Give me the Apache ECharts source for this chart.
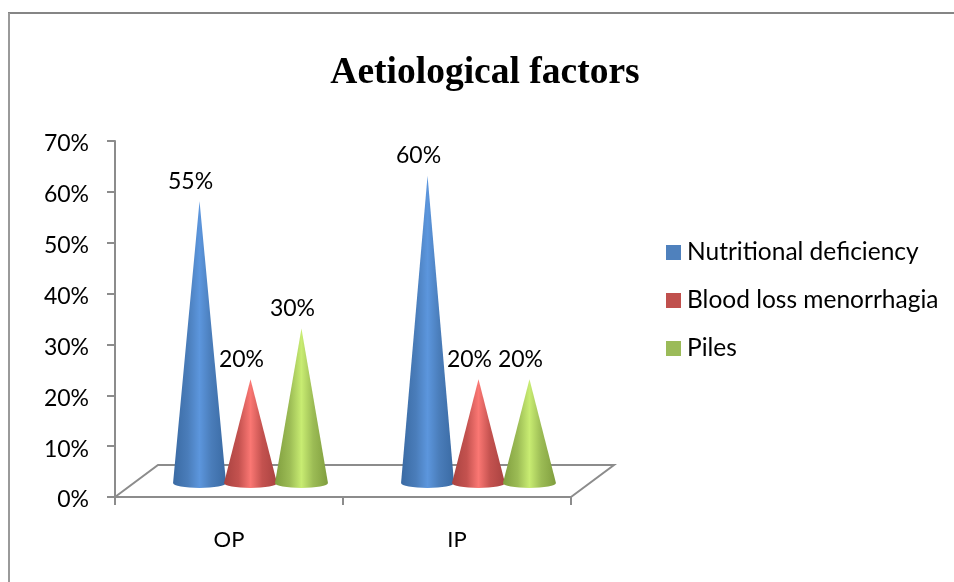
<!DOCTYPE html>
<html>
<head>
<meta charset="utf-8">
<style>html,body{margin:0;padding:0;background:#fff}#chart{width:954px;height:582px}</style>
<script src="https://cdn.jsdelivr.net/npm/echarts@6/dist/echarts.min.js"></script>
</head>
<body>
<div id="chart"></div>
<script>
// Aetiological factors among outpatients and inpatients, in percent.
const categories = ['OP', 'IP'];
const seriesNames = ['Nutritional deficiency', 'Blood loss menorrhagia', 'Piles'];
const nutritional = [55, 60];
const bloodLoss = [20, 20];
const piles = [30, 20];
const yTicks = { min: 0, max: 70, interval: 10 };

const AXIS_GREY = '#8c8c8c';
const DEPTH_X = 43, DEPTH_Y = 32;
const palette = [
  { flat: '#4f81bd', edge: '#3a6aa3', side: '#4a7dba', mid: '#5c96dd' },
  { flat: '#c0504d', edge: '#a84240', side: '#c4524f', mid: '#fa7773' },
  { flat: '#9bbb59', edge: '#7f9d3e', side: '#9cbc55', mid: '#c8ec72' }
];

// Draws one cone standing on the tilted floor, with its value above the apex.
function coneRenderer(index) {
  const shade = palette[index];
  const slot = index - 1;
  return function (params, api) {
    const cat = api.value(0);
    const val = api.value(1);
    const base = api.coord([cat, 0]);
    const top = api.coord([cat, val]);
    const band = api.size([1, 0])[0];
    const cx = base[0] + DEPTH_X / 2 + slot * band * 0.2235;
    const cy = base[1] - DEPTH_Y / 2 + 2;
    const apexY = top[1] - DEPTH_Y / 2;
    const rx = 26.5, ry = 5;
    const path =
      'M' + (cx - rx) + ' ' + cy +
      'L' + cx + ' ' + apexY +
      'L' + (cx + rx) + ' ' + cy +
      'A' + rx + ' ' + ry + ' 0 0 1 ' + (cx - rx) + ' ' + cy + 'Z';
    return {
      type: 'group',
      children: [
        {
          type: 'path',
          shape: { pathData: path },
          style: {
            fill: new echarts.graphic.LinearGradient(0, 0, 1, 0, [
              { offset: 0, color: shade.edge },
              { offset: 0.28, color: shade.side },
              { offset: 0.5, color: shade.mid },
              { offset: 0.72, color: shade.side },
              { offset: 1, color: shade.edge }
            ])
          }
        },
        {
          type: 'text',
          style: {
            x: cx - 9,
            y: apexY - 20,
            text: val + '%',
            font: '23px Lato',
            fill: '#000',
            align: 'center',
            verticalAlign: 'middle'
          }
        }
      ]
    };
  };
}

// Outline of the floor plane behind the cones.
function floorRenderer(params, api) {
  const a = api.coord([0, 0]);
  const band = api.size([1, 0])[0];
  const x0 = a[0] - band / 2;
  const x1 = x0 + band * categories.length;
  const y0 = a[1];
  return {
    type: 'polyline',
    silent: true,
    shape: {
      points: [
        [x0, y0],
        [x0 + DEPTH_X, y0 - DEPTH_Y],
        [x1 + DEPTH_X, y0 - DEPTH_Y],
        [x1, y0]
      ]
    },
    style: { fill: 'none', stroke: AXIS_GREY, lineWidth: 2 }
  };
}

const coneSeries = [nutritional, bloodLoss, piles].map(function (values, i) {
  return {
    name: seriesNames[i],
    type: 'custom',
    coordinateSystem: 'cartesian2d',
    itemStyle: { color: palette[i].flat },
    renderItem: coneRenderer(i),
    encode: { x: 0, y: 1 },
    clip: false,
    z: 3 + i,
    data: values.map(function (v, c) { return [c, v]; })
  };
});

const chart = echarts.init(document.getElementById('chart'), null, { renderer: 'canvas' });
chart.setOption({
  animation: false,
  backgroundColor: '#fff',
  title: {
    text: 'Aetiological factors',
    left: 480,
    top: 49,
    textAlign: 'center',
    textStyle: { fontFamily: 'Liberation Serif', fontWeight: 'bold', fontSize: 37.5, color: '#000' }
  },
  legend: {
    orient: 'vertical',
    left: 661,
    top: 235,
    icon: 'rect',
    itemWidth: 15,
    itemHeight: 15,
    itemGap: 23,
    textStyle: { fontFamily: 'Lato', fontSize: 24.5, color: '#000', padding: [0, 0, 0, 1] },
    data: seriesNames
  },
  grid: { left: 115, right: 383, top: 141, bottom: 85 },
  xAxis: {
    type: 'category',
    data: categories,
    axisLine: { lineStyle: { color: AXIS_GREY, width: 2 } },
    axisTick: { show: true, length: 8, lineStyle: { color: AXIS_GREY, width: 2 } },
    axisLabel: { fontFamily: 'Lato', fontSize: 22, color: '#000', margin: 32 }
  },
  yAxis: {
    type: 'value',
    min: yTicks.min,
    max: yTicks.max,
    interval: yTicks.interval,
    splitLine: { show: false },
    axisLine: { show: true, lineStyle: { color: AXIS_GREY, width: 2 } },
    axisTick: { show: true, length: 8, lineStyle: { color: AXIS_GREY, width: 2 } },
    axisLabel: { fontFamily: 'Lato', fontSize: 23, color: '#000', margin: 26, verticalAlign: 'top', lineHeight: 6, formatter: '{value}%' }
  },
  graphic: [
    {
      type: 'line',
      silent: true,
      shape: { x1: 8, y1: 13, x2: 954, y2: 13 },
      style: { stroke: '#858585', lineWidth: 2 }
    },
    {
      type: 'line',
      silent: true,
      shape: { x1: 9, y1: 13, x2: 9, y2: 582 },
      style: { stroke: '#9a9a9a', lineWidth: 2 }
    }
  ],
  series: [{
    type: 'custom',
    renderItem: floorRenderer,
    clip: false,
    silent: true,
    z: 1,
    data: [[0, 0]]
  }].concat(coneSeries)
});
</script>
</body>
</html>
